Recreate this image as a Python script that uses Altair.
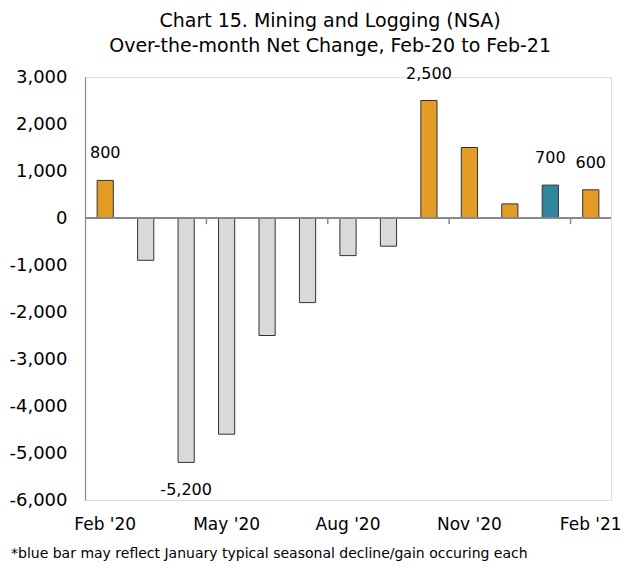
import altair as alt
import pandas as pd

months = ["Feb '20", "Mar '20", "Apr '20", "May '20", "Jun '20", "Jul '20", "Aug '20",
          "Sep '20", "Oct '20", "Nov '20", "Dec '20", "Jan '21", "Feb '21"]
values = [800, -900, -5200, -4600, -2500, -1800, -800, -600, 2500, 1500, 300, 700, 600]
kinds = ["gain", "loss", "loss", "loss", "loss", "loss", "loss", "loss",
         "gain", "gain", "gain", "jan", "gain"]
show_label = [True, False, True, False, False, False, False, False,
              True, False, False, True, True]
axis_months = ["Feb '20", "May '20", "Aug '20", "Nov '20", "Feb '21"]
tick_months = ["May '20", "Aug '20", "Nov '20", "Feb '21"]
y_ticks = [-6000, -5000, -4000, -3000, -2000, -1000, 0, 1000, 2000, 3000]
foot_text = "*blue bar may reflect January typical seasonal decline/gain occuring each"

df = pd.DataFrame({"month": months, "value": values, "kind": kinds, "show": show_label})
ticks_df = pd.DataFrame({"month": tick_months})

FONT = "DejaVu Sans"
W, H = 526, 423
LABEL_EXPR = "(datum.value < 0 ? '-' : '') + format(abs(datum.value), ',.0f')"

xscale = alt.Scale(domain=months, paddingInner=0, paddingOuter=0)
x_axis = alt.Axis(values=axis_months, title=None, domain=False, ticks=False,
                  labelAngle=0, labelPadding=16, labelFontSize=17,
                  labelColor="#000", labelFont=FONT)
x = alt.X("month:N", scale=xscale, sort=months, axis=x_axis)
yscale = alt.Scale(domain=[-6000, 3000], nice=False, zero=False)
y_axis = alt.Axis(values=y_ticks, labelExpr=LABEL_EXPR, title=None, grid=False,
                  ticks=False, domain=True, domainColor="#888", domainWidth=1.2,
                  labelPadding=18, labelFontSize=18, labelColor="#000", labelFont=FONT)
y = alt.Y("value:Q", scale=yscale, axis=y_axis)

bars = alt.Chart(df).mark_bar(width=alt.RelativeBandSize(0.4), stroke="#333",
                              strokeWidth=1).encode(
    x=x, y=y,
    color=alt.Color("kind:N", scale=alt.Scale(domain=["gain", "loss", "jan"],
                                              range=["#E39D26", "#D9D9D9", "#31869D"]),
                    legend=None),
)

zero = alt.Chart(df).mark_rule(color="#888", strokeWidth=1.5).encode(
    y=alt.datum(0, scale=yscale, axis=y_axis)
)

tickmarks = alt.Chart(ticks_df).mark_rule(color="#888", strokeWidth=1.5).encode(
    x=alt.X("month:N", scale=xscale, sort=months, bandPosition=0, axis=x_axis),
    y=alt.datum(0, scale=yscale, axis=y_axis),
    y2=alt.datum(-130),
)

labels_base = alt.Chart(df).transform_calculate(
    label="(datum.value < 0 ? '-' : '') + format(abs(datum.value), ',.0f')"
)
pos_labels = labels_base.transform_filter("datum.show && datum.value > 0").mark_text(
    dy=-27, fontSize=16, font=FONT, color="#000").encode(
    x=x, y=y, text="label:N"
)
neg_labels = labels_base.transform_filter("datum.show && datum.value < 0").mark_text(
    dy=28, fontSize=16, font=FONT, color="#000").encode(
    x=x, y=y, text="label:N"
)

foot_layer = alt.Chart(pd.DataFrame({"t": [foot_text]})).mark_text(
    align="left", baseline="middle", fontSize=14, font=FONT, color="#000").encode(
    x=alt.value(-74), y=alt.value(H + 54), text="t:N"
)

chart = alt.layer(bars, zero, tickmarks, pos_labels, neg_labels, foot_layer).properties(
    width=W, height=H,
    padding={"top": 3, "left": 0, "right": 0, "bottom": 0},
    title=alt.TitleParams(
        ["Chart 15. Mining and Logging (NSA)", "Over-the-month Net Change, Feb-20 to Feb-21"],
        anchor="middle", frame="bounds", fontSize=19, font=FONT, fontWeight="normal",
        color="#000", lineHeight=25, offset=10, dx=15),
).configure_view(stroke=None).configure(background="#fff")

chart.save("out.html", embed_options={"renderer": "svg", "actions": False})
